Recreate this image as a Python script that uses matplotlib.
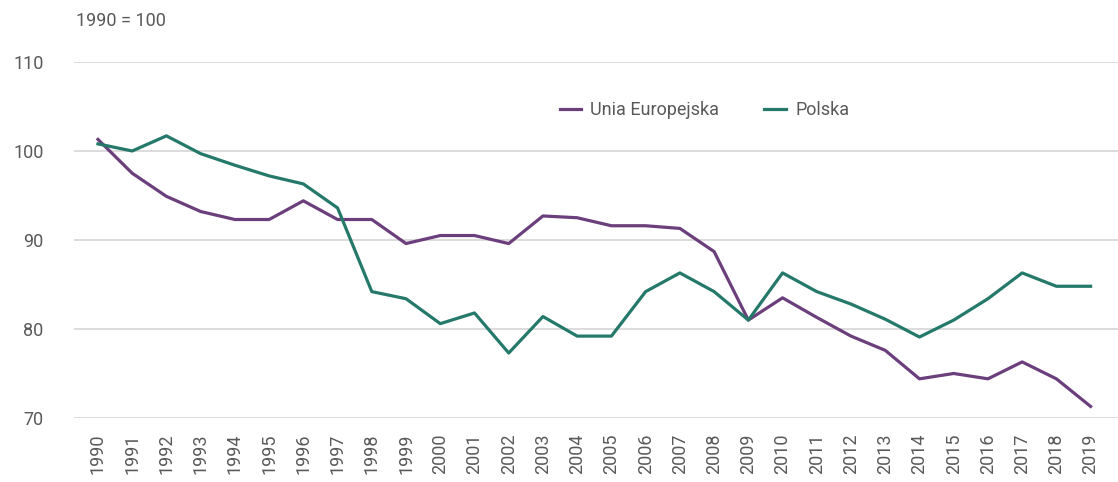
import numpy as np
import matplotlib.pyplot as plt

plt.rcParams['font.family'] = ['Roboto', 'DejaVu Sans']

# lata i indeksy (1990 = 100)
years = list(range(1990, 2020))
ue = [101.3, 97.5, 94.9, 93.2, 92.3, 92.3, 94.4, 92.3, 92.3, 89.6,
      90.5, 90.5, 89.6, 92.7, 92.5, 91.6, 91.6, 91.3, 88.7, 81.0,
      83.5, 81.3, 79.2, 77.6, 74.4, 75.0, 74.4, 76.3, 74.4, 71.3]
polska = [100.8, 100.0, 101.7, 99.7, 98.4, 97.2, 96.3, 93.6, 84.2, 83.4,
          80.6, 81.8, 77.3, 81.4, 79.2, 79.2, 84.2, 86.3, 84.2, 81.0,
          86.3, 84.2, 82.8, 81.1, 79.1, 81.0, 83.4, 86.3, 84.8, 84.8]
yticks = [70, 80, 90, 100, 110]

fig = plt.figure(figsize=(11.18, 4.82), dpi=100)
ax = fig.add_axes([0.0662, 0.1328, 0.9338, 0.7386])

ax.plot(years, ue, color='#6b3f7b', lw=2.3, label='Unia Europejska')
ax.plot(years, polska, color='#24796a', lw=2.3, label='Polska')

ax.set_ylim(70, 110)
ax.set_xlim(1989.3, 2019.8)
ax.set_yticks(yticks)
ax.set_xticks(years)
ax.set_xticklabels([str(y) for y in years], rotation=90)
ax.tick_params(axis='both', length=0, labelsize=13, labelcolor='#595959')
ax.tick_params(axis='y', pad=22)
ax.tick_params(axis='x', pad=11)
ax.grid(axis='y', color='#d9d9d9', lw=1.3)
ax.set_axisbelow(True)
for s in ax.spines.values():
    s.set_visible(False)

fig.text(76 / 1118, 1 - 21 / 482, '1990 = 100', fontsize=13, color='#595959', va='center')

fig.legend(loc='center', bbox_to_anchor=(0.63, 0.772), ncol=2, frameon=False,
           fontsize=13, labelcolor='#595959', handlelength=1.2, handletextpad=0.5,
           columnspacing=2.5)

fig.savefig('out.png', dpi=100)
